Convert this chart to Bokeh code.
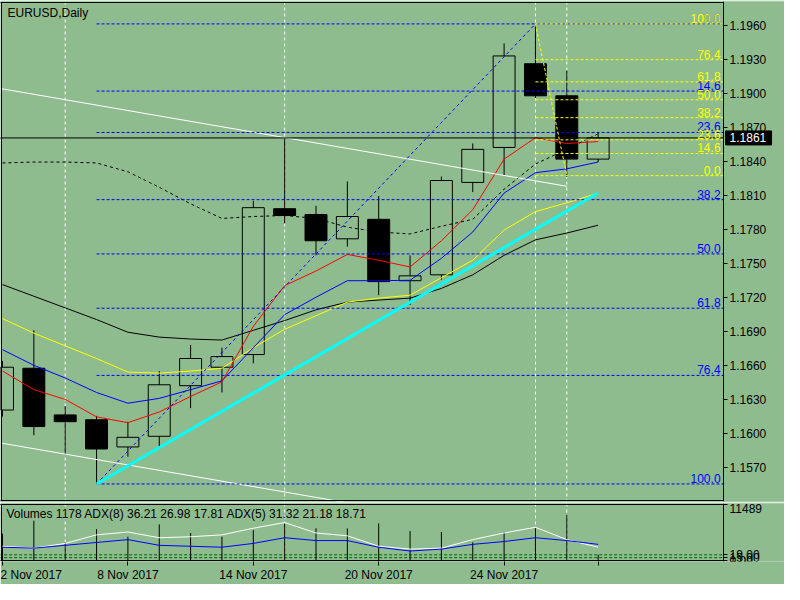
from bokeh.plotting import figure
from bokeh.models import Range1d, FixedTicker, PrintfTickFormatter, Span, ColumnDataSource
from bokeh.layouts import column
from bokeh.embed import file_html
from bokeh.resources import INLINE
from bokeh.core.properties import value

# ---------------- data ----------------
dates = ["2 Nov", "3 Nov", "6 Nov", "7 Nov", "8 Nov", "9 Nov", "10 Nov", "13 Nov", "14 Nov", "15 Nov",
         "16 Nov", "17 Nov", "20 Nov", "21 Nov", "22 Nov", "23 Nov", "24 Nov", "27 Nov", "28 Nov", "29 Nov"]
opens = [1.16207, 1.16576, 1.16164, 1.16121, 1.15881, 1.15975, 1.16422, 1.16585, 1.16697, 1.17985,
         1.17934, 1.17719, 1.17891, 1.17349, 1.17401, 1.18217, 1.18526, 1.19265, 1.18982, 1.18423]
highs = [1.16640, 1.16911, 1.16241, 1.16155, 1.16104, 1.16551, 1.16782, 1.16757, 1.18054, 1.18604,
         1.18011, 1.18226, 1.18097, 1.17573, 1.18269, 1.18561, 1.19445, 1.19617, 1.19205, 1.18655]
lows = [1.16150, 1.15984, 1.15812, 1.15554, 1.15795, 1.15881, 1.16224, 1.16362, 1.16619, 1.17856,
        1.17573, 1.17650, 1.17221, 1.17135, 1.17358, 1.18131, 1.18277, 1.18964, 1.18265, 1.18397]
closes = [1.16585, 1.16061, 1.16104, 1.15863, 1.15966, 1.16430, 1.16662, 1.16679, 1.17994, 1.17925,
          1.17702, 1.17916, 1.17341, 1.17392, 1.18234, 1.18509, 1.19334, 1.18982, 1.18423, 1.18610]

ma_red = [1.16551, 1.16387, 1.16301, 1.16147, 1.16095, 1.16190, 1.16327, 1.16456, 1.16946, 1.17306,
          1.17435, 1.17581, 1.17530, 1.17470, 1.17702, 1.17976, 1.18423, 1.18612, 1.18561, 1.18578]
ma_blue = [1.16740, 1.16602, 1.16490, 1.16362, 1.16267, 1.16310, 1.16387, 1.16465, 1.16757, 1.17049,
           1.17203, 1.17349, 1.17349, 1.17353, 1.17547, 1.17779, 1.18123, 1.18303, 1.18337, 1.18397]
ma_yellow = [1.17014, 1.16886, 1.16774, 1.16662, 1.16542, 1.16533, 1.16551, 1.16576, 1.16757, 1.16920,
             1.17040, 1.17160, 1.17195, 1.17221, 1.17375, 1.17530, 1.17796, 1.17959, 1.18037, 1.18123]
ma_black = [1.17315, 1.17212, 1.17109, 1.17006, 1.16894, 1.16851, 1.16834, 1.16825, 1.16911, 1.16997,
            1.17092, 1.17160, 1.17178, 1.17195, 1.17281, 1.17401, 1.17573, 1.17710, 1.17770, 1.17839]
ma_dashed = [1.18389, 1.18397, 1.18397, 1.18389, 1.18311, 1.18174, 1.18028, 1.17899, 1.17916, 1.17925,
             1.17899, 1.17822, 1.17779, 1.17762, 1.17830, 1.17891, 1.18157, 1.18380, 1.18509, 1.18647]

volumes = [5500, 8180, 3700, 6430, 4870, 7400, 5650, 4870, 6230, 7590,
           6620, 6580, 7610, 6040, 5840, 3720, 5860, 6640, 9350, 1178]
adx_white = [15, 13, 18, 27, 30, 24, 25, 27, 34, 40, 29, 26, 15, 12, 13, 22, 29, 35, 22, 14]
adx_blue = [14, 13, 16, 19, 22, 16, 15, 14, 18, 24, 21, 21, 14, 10, 12, 17, 20, 24, 21, 17]
adx_levels = [6, 3]
adx8_vals = [36.21, 26.98, 17.81]
adx5_vals = [31.32, 21.18, 18.71]
vol_max = 11489
adx_max = 59
vol_low_labels = ["0.00", "15.00", "19.00"]   # overlapping labels at the panel bottom
vol_low_ticks = [0, 584, 1168]

price_ticks = [1.1570, 1.1600, 1.1630, 1.1660, 1.1690, 1.1720, 1.1750, 1.1780,
               1.1810, 1.1840, 1.1870, 1.1900, 1.1930, 1.1960]
date_tick_idx = [0, 4, 8, 12, 16]
date_tick_labels = ["2 Nov 2017", "8 Nov 2017", "14 Nov 2017", "20 Nov 2017", "24 Nov 2017"]
grid_idx = [2, 9, 17, 18]

bid = 1.1861
white1 = ([-1, 18], [1.19091, 1.18183])
white2 = ([-1, 18], [1.15961, 1.15053])
cyan_line = ([3, 19], [1.15554, 1.18123])
fib_blue_x = [3, 17]
fib_blue_hi, fib_blue_lo = 1.19617, 1.15554
fib_blue_levels = [0.0, 14.6, 23.6, 38.2, 50.0, 61.8, 76.4, 100.0]
fib_yel_x = [17, 18]
fib_yel_hi, fib_yel_lo = 1.19617, 1.18277
fib_yel_levels = [0.0, 14.6, 23.6, 38.2, 50.0, 61.8, 76.4, 100.0]

# ---------------- layout / style ----------------
BG = "#8FBC8F"
FONT = "Liberation Sans"
FS = "12px"
W = 784
PXX = 31.35                      # px per bar
X0 = -2.0 / PXX                  # left edge of the frame
X_AX = 23.0                      # price axis position (index units)
XR = Range1d(X0, X0 + W / PXX)
X_LEFT = X0 + 1.0 / PXX          # left border line
P_TOP, P_BOT = 1.19806, 1.15408  # panel borders (price)
PXY = 498.0 / (P_TOP - P_BOT)
idx = list(range(len(dates)))


def style_axis(a):
    a.major_tick_out = 4
    a.major_tick_in = 0
    a.minor_tick_out = 0
    a.minor_tick_in = 0
    a.major_tick_line_color = "black"
    a.major_label_text_font = FONT
    a.major_label_text_font_size = FS
    a.major_label_text_color = "black"
    a.major_label_standoff = 2


# ---------------- main price panel ----------------
p = figure(width=W, height=502, x_range=XR,
           y_range=Range1d(P_BOT - 1.0 / PXY, P_TOP + 1.0 / PXY),
           output_backend="svg", toolbar_location=None, x_axis_location=None,
           y_axis_location="right", min_border_left=0, min_border_right=0,
           min_border_top=1, min_border_bottom=1, background_fill_color=BG,
           border_fill_color=BG, outline_line_color=None)
p.grid.visible = False
ax = p.yaxis[0]
ax.fixed_location = X_AX
ax.ticker = FixedTicker(ticks=price_ticks)
ax.formatter = PrintfTickFormatter(format="%.4f")
ax.axis_line_color = "black"
style_axis(ax)

for g in grid_idx:
    p.add_layout(Span(location=g, dimension="height", line_color="white",
                      line_dash="3 3", line_width=1, level="underlay"))

src = ColumnDataSource(dict(
    x=idx, o=opens, h=highs, l=lows, c=closes,
    top=[max(o, c) for o, c in zip(opens, closes)],
    bottom=[min(o, c) for o, c in zip(opens, closes)],
    fill=["black" if c < o else BG for o, c in zip(opens, closes)],
))
p.segment(x0="x", y0="l", x1="x", y1="h", source=src, line_color="black", line_width=1)
p.vbar(x="x", width=0.7, top="top", bottom="bottom", fill_color="fill",
       line_color="black", line_width=1, source=src)

p.line(idx, ma_black, line_color="black", line_width=1)
p.line(idx, ma_yellow, line_color="#FFFF00", line_width=1)
p.line(idx, ma_blue, line_color="#0000FF", line_width=1)
p.line(idx, ma_red, line_color="#FF0000", line_width=1)
p.line(idx, ma_dashed, line_color="black", line_width=1, line_dash="3 3")

p.line(white1[0], white1[1], line_color="white", line_width=1)
p.line(white2[0], white2[1], line_color="white", line_width=1)

p.line([X0 - 1, X_AX], [bid, bid], line_color="black", line_width=1)

# blue fibo
p.line(fib_blue_x, [fib_blue_lo, fib_blue_hi], line_color="#0000FF", line_width=1, line_dash="3 3")
bp = [fib_blue_hi - r / 100.0 * (fib_blue_hi - fib_blue_lo) for r in fib_blue_levels]
for y in bp:
    p.line([fib_blue_x[0], X_AX], [y, y], line_color="#0000FF", line_width=1, line_dash="3 2")
p.text(x=[X_AX - 3.0 / PXX] * len(bp), y=bp, text=["%.1f" % r for r in fib_blue_levels],
       text_align="right", text_baseline="bottom", y_offset=-1, text_color="#0000FF",
       text_font=value(FONT), text_font_size=value(FS))

# yellow fibo
p.line(fib_yel_x, [fib_yel_hi, fib_yel_lo], line_color="#FFFF00", line_width=1, line_dash="3 2")
yp = [fib_yel_lo + r / 100.0 * (fib_yel_hi - fib_yel_lo) for r in fib_yel_levels]
for y in yp:
    p.line([fib_yel_x[0], X_AX], [y, y], line_color="#FFFF00", line_width=1, line_dash="3 2")
p.text(x=[X_AX - 3.0 / PXX] * len(yp), y=yp, text=["%.1f" % r for r in fib_yel_levels],
       text_align="right", text_baseline="bottom", y_offset=-1, text_color="#FFFF00",
       text_font=value(FONT), text_font_size=value(FS))

p.line(cyan_line[0], cyan_line[1], line_color="#00FFFF", line_width=3)

# frame borders (the price axis is the right border)
p.line([X0 - 1, X_AX], [P_TOP, P_TOP], line_color="black", line_width=1)
p.line([X0 - 1, X_AX], [P_BOT, P_BOT], line_color="black", line_width=1)
p.line([X_LEFT, X_LEFT], [P_BOT, P_TOP], line_color="black", line_width=1)

p.text(x=[X0 + 7.0 / PXX], y=[P_TOP - 10.0 / PXY], text=["EURUSD,Daily"], text_align="left",
       text_baseline="middle", text_color="black", text_font=value(FONT), text_font_size=value(FS))

# current price box on the axis
p.quad(left=[X_AX + 2.0 / PXX], right=[X_AX + 48.0 / PXX],
       top=[bid + 7.0 / PXY], bottom=[bid - 7.0 / PXY], fill_color="black", line_color="black")
p.text(x=[X_AX + 6.0 / PXX], y=[bid], text=["%.4f" % bid], text_align="left", text_baseline="middle",
       text_color="white", text_font=value(FONT), text_font_size=value(FS))

# ---------------- volume / ADX panel ----------------
VPX = 57.0 / vol_max
APX = 57.0 / adx_max
v = figure(width=W, height=82, x_range=XR,
           y_range=Range1d(-1.0 / VPX, vol_max + 1.0 / VPX),
           output_backend="svg", toolbar_location=None, y_axis_location="right",
           min_border_left=0, min_border_right=0, min_border_top=1, min_border_bottom=22,
           background_fill_color=BG, border_fill_color=BG, outline_line_color=None)
v.extra_y_ranges = {"adx": Range1d(-1.0 / APX, adx_max + 1.0 / APX)}
v.grid.visible = False

vx = v.xaxis[0]
vx.ticker = FixedTicker(ticks=date_tick_idx + [19])
ov = {i: s for i, s in zip(date_tick_idx, date_tick_labels)}
ov[19] = ""
vx.major_label_overrides = ov
vx.axis_line_color = None
vx.major_label_text_align = "left"
style_axis(vx)

vy = v.yaxis[0]
vy.fixed_location = X_AX
vy.ticker = FixedTicker(ticks=vol_low_ticks + [vol_max])
ovy = {t: s for t, s in zip(vol_low_ticks, vol_low_labels)}
ovy[vol_max] = ""
vy.major_label_overrides = ovy
vy.axis_line_color = "black"
style_axis(vy)

for g in grid_idx:
    v.add_layout(Span(location=g, dimension="height", line_color="white",
                      line_dash="3 3", line_width=1, level="underlay"))

for lv in adx_levels:
    v.line([X0 - 1, X_AX], [lv, lv], y_range_name="adx", line_color="#006400", line_width=1,
           line_dash="3 2")

v.segment(x0=idx, y0=[0] * len(idx), x1=idx, y1=volumes, line_color="black", line_width=1)
v.line(idx, adx_white, y_range_name="adx", line_color="white", line_width=1)
v.line(idx, adx_blue, y_range_name="adx", line_color="#0000FF", line_width=1)

v.line([X0 - 1, X_AX], [vol_max, vol_max], line_color="black", line_width=1)
v.line([X0 - 1, X_AX], [0, 0], line_color="black", line_width=1)
v.line([X_LEFT, X_LEFT], [0, vol_max], line_color="black", line_width=1)

vol_text = "Volumes %d ADX(8) %s ADX(5) %s" % (
    volumes[-1], " ".join("%.2f" % a for a in adx8_vals), " ".join("%.2f" % a for a in adx5_vals))
v.text(x=[X0 + 6.0 / PXX], y=[vol_max - 10.0 / VPX], text=[vol_text], text_align="left",
       text_baseline="middle", text_color="black", text_font=value(FONT), text_font_size=value(FS))
v.text(x=[X_AX + 6.0 / PXX], y=[vol_max], text=[str(vol_max)], text_align="left",
       text_baseline="top", text_color="black", text_font=value(FONT), text_font_size=value(FS))

layout = column(p, v)
open("out.html", "w").write(file_html(layout, INLINE))
